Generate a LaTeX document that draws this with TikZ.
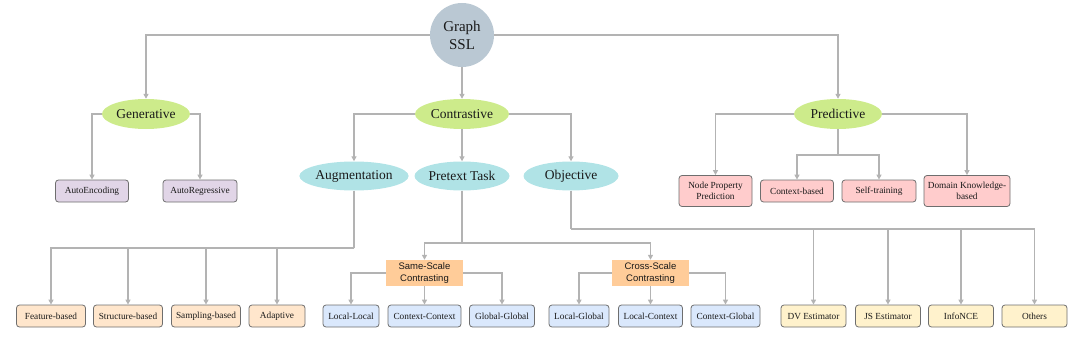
\documentclass[tikz,border=0pt]{standalone}
\usepackage{fontspec}
\setmainfont{Liberation Serif}
\newfontfamily\serf{Liberation Serif}
\newfontfamily\sansf{Liberation Sans}
\usetikzlibrary{shapes.geometric,arrows.meta}
\definecolor{cRoot}{HTML}{BAC8D3}
\definecolor{cGreen}{HTML}{CDEB8B}
\definecolor{cCyan}{HTML}{B0E3E6}
\definecolor{cPurple}{HTML}{E1D5E7}
\definecolor{cPink}{HTML}{FFCCCC}
\definecolor{cPeach}{HTML}{FFE6CC}
\definecolor{cBlue}{HTML}{DAE8FC}
\definecolor{cYellow}{HTML}{FFF2CC}
\definecolor{cOrange}{HTML}{FFCC99}
\definecolor{cLine}{HTML}{B3B3B3}
\definecolor{cBorder}{HTML}{6E6E6E}
\definecolor{cText}{HTML}{1A1A1A}
\begin{document}
\begin{tikzpicture}[x=1pt,y=-1pt,
  every node/.style={text=cText},
  rootnode/.style={circle,fill=cRoot,minimum size=64pt,inner sep=0pt,align=center,font=\serf\fontsize{15}{18}\selectfont},
  lvlone/.style={ellipse,fill=cGreen,minimum width=88pt,minimum height=30pt,inner sep=0pt,font=\serf\fontsize{13.5}{16}\selectfont},
  lvltwo/.style={ellipse,fill=cCyan,minimum width=95pt,minimum height=29pt,inner sep=0pt,font=\serf\fontsize{13.5}{16}\selectfont},
  leaf/.style={rectangle,rounded corners=3pt,draw=cBorder,line width=0.8pt,minimum height=22pt,inner sep=0pt,align=center,font=\serf\fontsize{9.3}{11.5}\selectfont},
  leaftall/.style={leaf,minimum height=31pt},
  midbox/.style={rectangle,fill=cOrange,minimum width=77pt,minimum height=26pt,inner sep=0pt,align=center,font=\sansf\fontsize{9.5}{11.5}\selectfont},
  conn/.style={draw=cLine,line width=1.3pt,-{Triangle[length=5pt,width=5pt]}},
  plain/.style={draw=cLine,line width=1.3pt}
]
\useasboundingbox (0,0) rectangle (1080,337);

% root and level one
\node[rootnode] (root) at (462,35) {Graph\\SSL};
\node[lvlone] (gen) at (146,114) {Generative};
\node[lvlone,minimum width=94pt] (con) at (462,114) {Contrastive};
\node[lvlone] (pred) at (838,114) {Predictive};

% generative leaves
\node[leaf,fill=cPurple,minimum width=73pt] (ae) at (92,191) {AutoEncoding};
\node[leaf,fill=cPurple,minimum width=74pt] (ar) at (200,191) {AutoRegressive};

% contrastive level two
\node[lvltwo] (aug) at (354,176) {Augmentation};
\node[lvltwo] (pre) at (462,176) {Pretext Task};
\node[lvltwo] (obj) at (571,176) {Objective};

% predictive leaves
\node[leaftall,fill=cPink,minimum width=73pt] (npp) at (715.5,191) {Node Property\\Prediction};
\node[leaf,fill=cPink,minimum width=73pt] (cb) at (797,191) {Context-based};
\node[leaf,fill=cPink,minimum width=74pt] (st) at (879,191) {Self-training};
\node[leaftall,fill=cPink,minimum width=86pt] (dk) at (967,191) {Domain Knowledge-\\based};

% augmentation leaves
\node[leaf,fill=cPeach,minimum width=69pt] (fb) at (51,316) {Feature-based};
\node[leaf,fill=cPeach,minimum width=69pt] (sb) at (128,316) {Structure-based};
\node[leaf,fill=cPeach,minimum width=69pt] (smb) at (206,316) {Sampling-based};
\node[leaf,fill=cPeach,minimum width=56pt] (ad) at (277,316) {Adaptive};

% pretext task boxes
\node[midbox] (ss) at (424.5,273) {Same-Scale\\Contrasting};
\node[midbox] (cs) at (650.5,273) {Cross-Scale\\Contrasting};
\node[leaf,fill=cBlue,minimum width=56pt] (ll) at (351,316) {Local-Local};
\node[leaf,fill=cBlue,minimum width=73pt] (cc) at (424.5,316) {Context-Context};
\node[leaf,fill=cBlue,minimum width=65pt] (gg) at (502,316) {Global-Global};
\node[leaf,fill=cBlue,minimum width=60pt] (lg) at (579,316) {Local-Global};
\node[leaf,fill=cBlue,minimum width=64pt] (lc) at (650.5,316) {Local-Context};
\node[leaf,fill=cBlue,minimum width=69pt] (cg) at (725.5,316) {Context-Global};

% objective leaves
\node[leaf,fill=cYellow,minimum width=65pt] (dv) at (813.5,316) {DV Estimator};
\node[leaf,fill=cYellow,minimum width=65pt] (js) at (888,316) {JS Estimator};
\node[leaf,fill=cYellow,minimum width=65pt] (nce) at (961,316) {InfoNCE};
\node[leaf,fill=cYellow,minimum width=65pt] (oth) at (1034.5,316) {Others};

% junction coordinates
\coordinate (jaug) at (354,248);
\coordinate (jpre) at (462,243);
\coordinate (jobj) at (571,229);
\coordinate (jpred) at (838,155);

% root connectors
\draw[conn] (root.west) -| (gen.north);
\draw[conn] (root.east) -| (pred.north);
\draw[conn] (root.south) -- (con.north);

% generative
\draw[conn] (gen.west) -| (ae.north);
\draw[conn] (gen.east) -| (ar.north);

% contrastive
\draw[conn] (con.west) -| (aug.north);
\draw[conn] (con.east) -| (obj.north);
\draw[conn] (con.south) -- (pre.north);

% predictive
\draw[conn] (pred.west) -| (npp.north);
\draw[conn] (pred.east) -| (dk.north);
\draw[plain] (pred.south) -- (jpred);
\draw[conn] (jpred) -| (cb.north);
\draw[conn] (jpred) -| (st.north);

% augmentation
\draw[plain] (aug.south) -- (jaug);
\draw[conn] (jaug) -| (fb.north);
\draw[conn] (jaug) -| (sb.north);
\draw[conn] (jaug) -| (smb.north);
\draw[conn] (jaug) -| (ad.north);

% pretext task
\draw[plain] (pre.south) -- (jpre);
\draw[conn] (jpre) -| (ss.north);
\draw[conn] (jpre) -| (cs.north);
\draw[conn] (ss.west) -| (ll.north);
\draw[conn] (ss.south) -- (cc.north);
\draw[conn] (ss.east) -| (gg.north);
\draw[conn] (cs.west) -| (lg.north);
\draw[conn] (cs.south) -- (lc.north);
\draw[conn] (cs.east) -| (cg.north);

% objective
\draw[plain] (obj.south) -- (jobj);
\draw[conn] (jobj) -| (dv.north);
\draw[conn] (jobj) -| (js.north);
\draw[conn] (jobj) -| (nce.north);
\draw[conn] (jobj) -| (oth.north);
\end{tikzpicture}
\end{document}
